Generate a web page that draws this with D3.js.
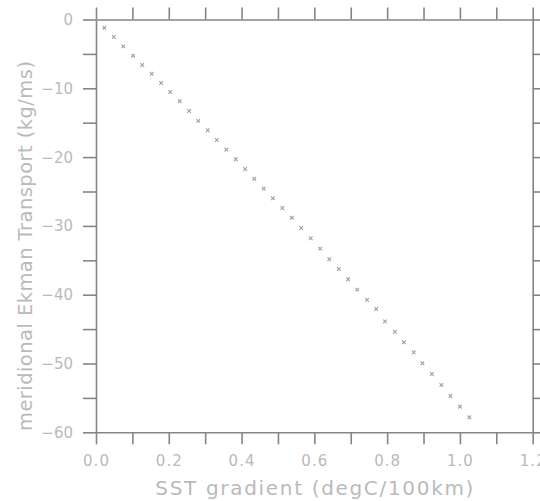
<!DOCTYPE html>
<html lang="en">

<head>
    <meta charset="UTF-8">
    <title>Ekman transport vs SST gradient</title>
    <script src="https://d3js.org/d3.v7.min.js"></script>
    <style>
        body {
            margin: 0;
            background: white;
            overflow: hidden;
        }

        svg {
            display: block;
        }

        .tick-label {
            font-family: "DejaVu Sans", sans-serif;
            fill: #bababa;
        }
    </style>
</head>

<body>
    <script>
        // SST gradient (degC/100km)
        const sstGradient = [0.023, 0.049, 0.075, 0.102, 0.127, 0.153, 0.179, 0.204, 0.230, 0.256,
            0.281, 0.307, 0.332, 0.358, 0.384, 0.410, 0.435, 0.461, 0.486, 0.512,
            0.538, 0.564, 0.590, 0.616, 0.641, 0.667, 0.693, 0.718, 0.745, 0.770,
            0.794, 0.821, 0.846, 0.873, 0.897, 0.923, 0.949, 0.974, 1.000, 1.026];

        // meridional Ekman Transport (kg/ms)
        const ekmanTransport = [-1.19, -2.54, -3.90, -5.26, -6.61, -7.88, -9.23, -10.54, -11.89, -13.30,
            -14.73, -16.10, -17.51, -18.92, -20.32, -21.73, -23.14, -24.59, -25.99, -27.40,
            -28.81, -30.31, -31.80, -33.31, -34.85, -36.26, -37.76, -39.27, -40.73, -42.08,
            -43.87, -45.38, -46.92, -48.37, -49.97, -51.53, -53.12, -54.72, -56.28, -57.82];

        const xTickLabels = ["0.0", "0.2", "0.4", "0.6", "0.8", "1.0", "1.2"];
        const yTickLabels = ["0", "−10", "−20", "−30", "−40", "−50", "−60"];

        const width = 540;
        const height = 501;
        const margin = { top: 19.5, right: 7.3, bottom: 68.7, left: 96 };

        const svg = d3.select("body").append("svg")
            .attr("width", width)
            .attr("height", height);

        const x = d3.scaleLinear()
            .domain([0, 1.2])
            .range([margin.left, width - margin.right]);

        const y = d3.scaleLinear()
            .domain([-60, 0])
            .range([height - margin.bottom, margin.top]);

        const axisColor = "#858585";
        const tickLen = 12;

        // axes on all four sides, ticks pointing outward
        function styleAxis(g) {
            g.selectAll(".domain").attr("stroke", axisColor).attr("stroke-width", 1.6);
            g.selectAll(".tick line").attr("stroke", axisColor).attr("stroke-width", 1.6);
            g.selectAll(".tick text").remove();
        }

        const xTicks = d3.range(0, 13).map(i => i / 10);
        const yTicks = d3.range(0, 13).map(i => -i * 5);

        svg.append("g")
            .attr("transform", `translate(0,${y(-60)})`)
            .call(d3.axisBottom(x).tickValues(xTicks).tickSize(tickLen).tickSizeOuter(0))
            .call(styleAxis);

        svg.append("g")
            .attr("transform", `translate(0,${y(0)})`)
            .call(d3.axisTop(x).tickValues(xTicks).tickSize(tickLen).tickSizeOuter(0))
            .call(styleAxis);

        svg.append("g")
            .attr("transform", `translate(${x(0)},0)`)
            .call(d3.axisLeft(y).tickValues(yTicks).tickSize(tickLen + 1).tickSizeOuter(0))
            .call(styleAxis);

        svg.append("g")
            .attr("transform", `translate(${x(1.2)},0)`)
            .call(d3.axisRight(y).tickValues(yTicks).tickSize(tickLen).tickSizeOuter(0))
            .call(styleAxis);

        // tick labels
        svg.append("g").selectAll("text")
            .data(xTickLabels)
            .enter().append("text")
            .attr("class", "tick-label")
            .attr("x", (d, i) => x(i * 0.2))
            .attr("y", 466)
            .attr("text-anchor", "middle")
            .attr("font-size", 15)
            .attr("textLength", 26)
            .text(d => d);

        svg.append("g").selectAll("text")
            .data(yTickLabels)
            .enter().append("text")
            .attr("class", "tick-label")
            .attr("x", 73)
            .attr("y", (d, i) => y(-i * 10))
            .attr("dy", "0.36em")
            .attr("text-anchor", "end")
            .attr("font-size", 15)
            .text(d => d);

        // axis titles
        svg.append("text")
            .attr("class", "tick-label")
            .attr("x", (x(0) + x(1.2)) / 2)
            .attr("y", 495)
            .attr("text-anchor", "middle")
            .attr("font-size", 20)
            .attr("textLength", 318)
            .attr("lengthAdjust", "spacing")
            .text("SST gradient (degC/100km)");

        svg.append("text")
            .attr("class", "tick-label")
            .attr("transform", "translate(32,246) rotate(-90)")
            .attr("text-anchor", "middle")
            .attr("font-size", 19.5)
            .attr("textLength", 370)
            .attr("lengthAdjust", "spacing")
            .text("meridional Ekman Transport (kg/ms)");

        // small x markers
        const points = sstGradient.map((v, i) => ({ sst: v, ekman: ekmanTransport[i] }));
        const m = 1.8;

        svg.append("g")
            .selectAll("path")
            .data(points)
            .enter().append("path")
            .attr("d", d => {
                const px = x(d.sst), py = y(d.ekman);
                return `M${px - m},${py - m}L${px + m},${py + m}M${px - m},${py + m}L${px + m},${py - m}`;
            })
            .attr("stroke", "#a0a0a0")
            .attr("stroke-width", 1.1)
            .attr("fill", "none");
    </script>
</body>

</html>
